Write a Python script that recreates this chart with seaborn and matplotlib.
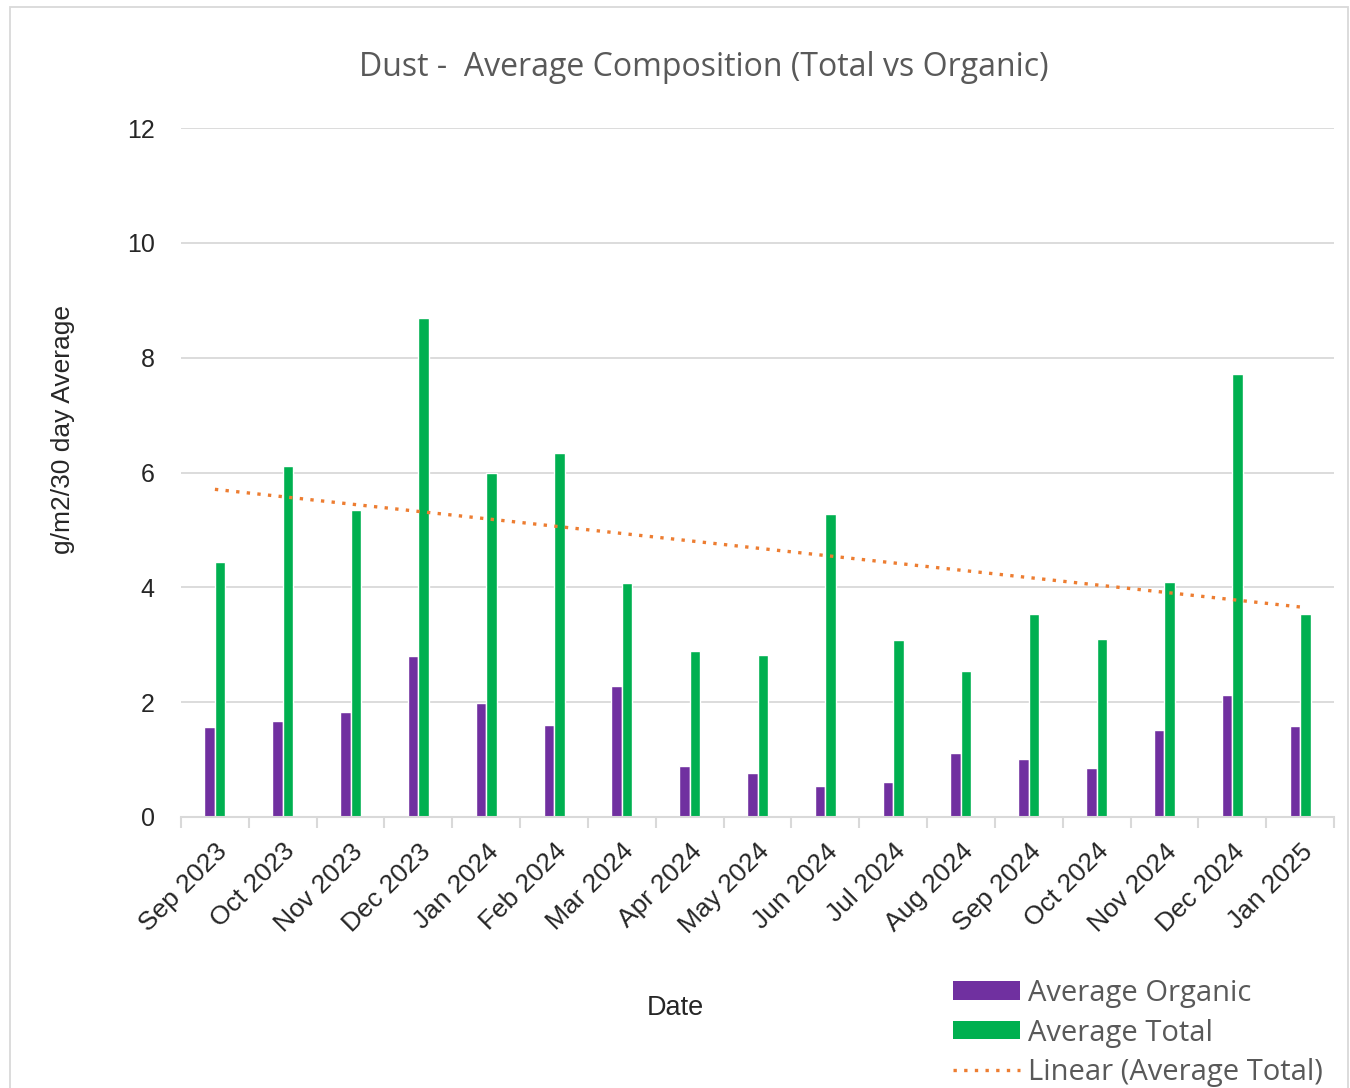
import numpy as np
import pandas as pd
import matplotlib
matplotlib.use("Agg")
import matplotlib.pyplot as plt
from matplotlib.patches import Rectangle, Patch
from matplotlib.lines import Line2D
import seaborn as sns

# values
months = ["Sep 2023", "Oct 2023", "Nov 2023", "Dec 2023", "Jan 2024", "Feb 2024",
          "Mar 2024", "Apr 2024", "May 2024", "Jun 2024", "Jul 2024", "Aug 2024",
          "Sep 2024", "Oct 2024", "Nov 2024", "Dec 2024", "Jan 2025"]
avg_organic = [1.57, 1.67, 1.83, 2.80, 1.99, 1.60, 2.28, 0.89, 0.77, 0.54, 0.61,
               1.11, 1.01, 0.85, 1.52, 2.13, 1.59]
avg_total = [4.44, 6.11, 5.35, 8.69, 5.99, 6.34, 4.08, 2.89, 2.82, 5.28, 3.08,
             2.54, 3.54, 3.10, 4.09, 7.72, 3.54]

df = pd.DataFrame({"Date": months * 2,
                   "value": avg_organic + avg_total,
                   "series": ["Average Organic"] * len(months) + ["Average Total"] * len(months)})

sns.set_style("white")
plt.rcParams["font.family"] = ["Liberation Sans", "DejaVu Sans"]

fig = plt.figure(figsize=(13.5, 10.88), dpi=100)
ax = fig.add_axes([181 / 1350, 1 - 817 / 1088, (1334 - 181) / 1350, (817 - 128) / 1088])

purple = "#7030A0"
green = "#00B050"
orange = "#ED7D31"
sns.barplot(data=df, x="Date", y="value", hue="series", order=months,
            palette={"Average Organic": purple, "Average Total": green},
            width=0.31, gap=0, ax=ax, legend=False, saturation=1)

# linear trendline of the totals
xs = np.arange(len(months))
k, b = np.polyfit(xs, avg_total, 1)
ax.plot(xs, k * xs + b, color=orange, linestyle=(0, (1, 2.2)), linewidth=2.4)

ax.set_ylim(0, 12)
ax.set_xlim(-0.5, len(months) - 0.5)
ax.set_yticks(range(0, 13, 2))
ax.yaxis.grid(True, color="#D9D9D9", linewidth=1.3)
ax.set_axisbelow(True)
for s in ["top", "right", "left"]:
    ax.spines[s].set_visible(False)
ax.spines["bottom"].set_color("#D9D9D9")
ax.spines["bottom"].set_linewidth(1.5)
ax.set_xticks(xs)
ax.set_xticks(np.arange(-0.5, len(months)), minor=True)
ax.tick_params(axis="x", which="major", length=0, pad=16, labelsize=19)
ax.tick_params(axis="x", which="minor", length=8, width=1.5, color="#D9D9D9", bottom=True)
ax.tick_params(axis="y", length=0, pad=19, labelsize=18)
plt.setp(ax.get_xticklabels(), rotation=45, ha="right", rotation_mode="anchor")

ax.set_xlabel("")
ax.set_ylabel("")
fig.text(63 / 1350, 1 - 430 / 1088, "g/m2/30 day Average", rotation=90,
         ha="center", va="center", fontsize=19)
fig.text(675 / 1350, 1 - 1008 / 1088, "Date", ha="center", va="center", fontsize=19.5)
fig.text(704 / 1350, 1 - 67 / 1088, "Dust -  Average Composition (Total vs Organic)",
         ha="center", va="center", fontsize=23, color="#595959",
         family=["Open Sans", "DejaVu Sans"])

handles = [Patch(facecolor=purple, edgecolor="none"),
           Patch(facecolor=green, edgecolor="none"),
           Line2D([], [], color=orange, linestyle=(0, (1, 2.2)), linewidth=2.4)]
labels = ["Average Organic", "Average Total", "Linear (Average Total)"]
fig.legend(handles, labels, loc="upper left", bbox_to_anchor=(953 / 1350, 1 - 979 / 1088),
           frameon=False, prop={"family": ["Open Sans", "DejaVu Sans"], "size": 21},
           labelcolor="#595959", handlelength=2.3, handleheight=0.6,
           handletextpad=0.28, labelspacing=0.36, borderaxespad=0, borderpad=0)

fig.patches.append(Rectangle((10 / 1350, -0.01), 1338 / 1350, 1 - 7 / 1088 + 0.01,
                             transform=fig.transFigure, fill=False,
                             edgecolor="#D9D9D9", linewidth=1.3))

fig.savefig("out.png", dpi=100)
